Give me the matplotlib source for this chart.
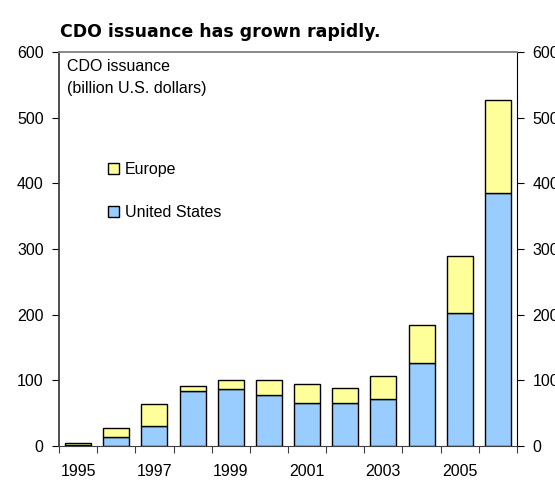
import numpy as np
import matplotlib
matplotlib.use("Agg")
import matplotlib.pyplot as plt
from matplotlib.patches import Patch

plt.rcParams['font.family'] = ['Liberation Sans', 'DejaVu Sans']

years = [1995, 1996, 1997, 1998, 1999, 2000, 2001, 2002, 2003, 2004, 2005, 2006]
united_states = [1, 13, 30, 83, 87, 78, 65, 65, 71, 127, 202, 386]
europe = [4, 15, 34, 8, 13, 22, 29, 23, 35, 57, 87, 141]
tick_labels = ['1995', '1997', '1999', '2001', '2003', '2005']

us_color = '#99CCFF'
eu_color = '#FFFF99'
fs = 11.5

fig = plt.figure(figsize=(5.55, 4.87), dpi=100)
ax = fig.add_axes([59 / 555, 1 - 446 / 487, (517 - 59) / 555, (446 - 52) / 487])

x = np.arange(len(years))
ax.bar(x, united_states, width=0.68, color=us_color, edgecolor='black', linewidth=1)
ax.bar(x, europe, bottom=united_states, width=0.68, color=eu_color, edgecolor='black', linewidth=1)

ax.set_xlim(-0.5, len(years) - 0.5)
ax.set_ylim(0, 600)

# ticks between categories, labels every other year
ax.set_xticks(np.arange(-0.5, len(years), 1.0))
ax.set_xticklabels([])
ax.set_xticks(x[::2], minor=True)
ax.set_xticklabels(tick_labels, minor=True, fontsize=fs)
ax.tick_params(axis='x', which='major', direction='out', length=5, color='#404040')
ax.tick_params(axis='x', which='minor', length=0, pad=13)

ax.set_yticks(range(0, 601, 100))
ax.tick_params(axis='y', direction='out', length=5, labelsize=fs, pad=6,
               left=True, right=True, labelleft=True, labelright=True)

ax.spines['left'].set_color('#404040')
ax.spines['left'].set_linewidth(1.3)
ax.spines['right'].set_color('black')
ax.spines['top'].set_color('#808080')
ax.spines['top'].set_linewidth(1.3)
ax.spines['bottom'].set_color('#404040')

fig.text(60 / 555, 1 - 32 / 487, 'CDO issuance has grown rapidly.', fontsize=12.5,
         fontweight='bold', family='DejaVu Sans', va='center', ha='left')
ax.text(0.018, 0.982, 'CDO issuance\n(billion U.S. dollars)', transform=ax.transAxes,
        fontsize=fs, va='top', ha='left', linespacing=1.6)

handles = [Patch(facecolor=eu_color, edgecolor='black', label='Europe'),
           Patch(facecolor=us_color, edgecolor='black', label='United States')]
ax.legend(handles=handles, loc='upper left', bbox_to_anchor=(0.093, 0.737), frameon=False,
          fontsize=fs, handlelength=0.7, handleheight=0.7, handletextpad=0.35,
          labelspacing=1.75, borderaxespad=0)

fig.savefig('out.png', dpi=100)
